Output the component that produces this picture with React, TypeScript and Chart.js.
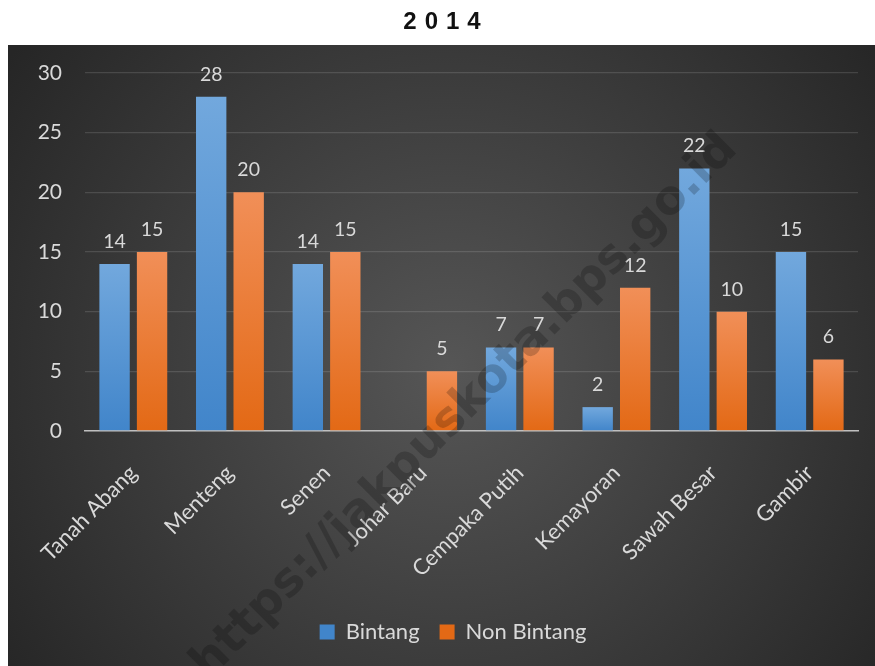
import { useEffect, useRef } from "react";
import { Chart, registerables } from "chart.js";

Chart.register(...registerables);

const TITLE = "2014";
const WATERMARK = "https://jakpuskota.bps.go.id";
const categories = [
  "Tanah Abang",
  "Menteng",
  "Senen",
  "Johar Baru",
  "Cempaka Putih",
  "Kemayoran",
  "Sawah Besar",
  "Gambir",
];
const seriesNames = ["Bintang", "Non Bintang"];
const bintang: (number | null)[] = [14, 28, 14, null, 7, 2, 22, 15];
const nonBintang: (number | null)[] = [15, 20, 15, 5, 7, 12, 10, 6];
const yMin = 0;
const yMax = 30;
const yStep = 5;

const FONT = 'Lato, "Noto Sans", sans-serif';
const TEXT = "#d9d9d9";

function barGradient(top: string, bottom: string, flat: string) {
  return (ctx: any) => {
    if (ctx.type !== "data") return flat;
    const chart = ctx.chart;
    const y = chart.scales && chart.scales.y;
    const v = ctx.raw;
    if (!y || v == null || !chart.chartArea) return flat;
    const y0 = y.getPixelForValue(v);
    const y1 = y.getPixelForValue(0);
    if (!isFinite(y0) || !isFinite(y1) || y0 === y1) return flat;
    const g = chart.ctx.createLinearGradient(0, y0, 0, y1);
    g.addColorStop(0, top);
    g.addColorStop(1, bottom);
    return g;
  };
}

const backgroundPlugin = {
  id: "bgPanel",
  beforeDraw(chart: any) {
    const { ctx, width, height } = chart;
    ctx.save();
    ctx.fillStyle = "#ffffff";
    ctx.fillRect(0, 0, width, height);
    const g = ctx.createRadialGradient(450, 370, 0, 450, 370, 540);
    g.addColorStop(0, "#565656");
    g.addColorStop(1, "#262626");
    ctx.fillStyle = g;
    ctx.fillRect(8, 45, width - 8, height - 45);
    // title
    ctx.fillStyle = "#111111";
    ctx.font = 'bold 24px "Liberation Sans", Arial, sans-serif';
    (ctx as any).letterSpacing = "8px";
    ctx.textAlign = "center";
    ctx.textBaseline = "middle";
    ctx.fillText(TITLE, 446, 22.5);
    (ctx as any).letterSpacing = "0px";
    ctx.restore();
  },
};

const legendShiftPlugin = {
  id: "legendShift",
  afterLayout(chart: any) {
    const lg = chart.legend;
    if (!lg) return;
    lg.left += 20;
    lg.right += 20;
  },
};

const labelsPlugin = {
  id: "valueLabels",
  afterDatasetsDraw(chart: any) {
    const { ctx } = chart;
    ctx.save();
    ctx.font = `19.5px ${FONT}`;
    ctx.fillStyle = TEXT;
    ctx.textAlign = "center";
    ctx.textBaseline = "alphabetic";
    chart.data.datasets.forEach((ds: any, di: number) => {
      const meta = chart.getDatasetMeta(di);
      meta.data.forEach((el: any, i: number) => {
        const v = ds.data[i];
        if (v == null) return;
        ctx.fillText(String(v), el.x, el.y - 16);
      });
    });
    ctx.restore();
  },
};

const watermarkPlugin = {
  id: "watermark",
  afterDraw(chart: any) {
    const { ctx } = chart;
    ctx.save();
    ctx.translate(465, 407);
    ctx.rotate(-Math.PI / 4);
    const fam = '"DejaVu Sans", Verdana, sans-serif';
    ctx.font = `bold 50px ${fam}`;
    const w = ctx.measureText(WATERMARK).width;
    const size = (50 * 750) / w;
    ctx.font = `bold ${size}px ${fam}`;
    ctx.fillStyle = "rgba(0,0,0,0.2)";
    ctx.textAlign = "center";
    ctx.textBaseline = "middle";
    ctx.fillText(WATERMARK, 0, 0);
    ctx.restore();
  },
};

export default function App() {
  const ref = useRef<HTMLCanvasElement | null>(null);

  useEffect(() => {
    if (!ref.current) return;
    Chart.defaults.font.family = FONT;
    const chart = new Chart(ref.current, {
      type: "bar",
      data: {
        labels: categories,
        datasets: [
          {
            label: seriesNames[0],
            data: bintang,
            backgroundColor: barGradient("#72a8dd", "#4185ca", "#5b9bd5"),
            borderWidth: 0,
            categoryPercentage: 0.776,
            barPercentage: 0.81,
          },
          {
            label: seriesNames[1],
            data: nonBintang,
            backgroundColor: barGradient("#f18f58", "#e36915", "#ed7d31"),
            borderWidth: 0,
            categoryPercentage: 0.776,
            barPercentage: 0.81,
          },
        ],
      },
      options: {
        responsive: false,
        animation: false,
        devicePixelRatio: 1,
        layout: { padding: { top: 73, left: 8, right: 17, bottom: 13 } },
        plugins: {
          title: { display: false },
          tooltip: { enabled: false },
          legend: {
            display: true,
            position: "bottom",
            labels: {
              color: TEXT,
              font: { family: FONT, size: 22 },
              boxWidth: 15,
              boxHeight: 15,
              padding: 20,
            },
          },
        },
        scales: {
          x: {
            grid: { display: false, drawTicks: false },
            border: { display: true, color: "#bfbfbf", width: 1.5 },
            ticks: {
              color: TEXT,
              font: { family: FONT, size: 22 },
              maxRotation: 45,
              minRotation: 45,
              autoSkip: false,
              padding: 29,
            },
            afterFit: (s: any) => {
              s.height = 170;
            },
          },
          y: {
            min: yMin,
            max: yMax,
            grid: { color: "rgba(255,255,255,0.13)", lineWidth: 1.3, drawTicks: false },
            border: { display: false },
            ticks: {
              stepSize: yStep,
              color: TEXT,
              font: { family: FONT, size: 21 },
              padding: 23,
            },
            afterFit: (s: any) => {
              s.width = 77;
            },
          },
        },
      },
      plugins: [backgroundPlugin, legendShiftPlugin, labelsPlugin, watermarkPlugin],
    });
    return () => chart.destroy();
  }, []);

  return (
    <div style={{ position: "absolute", left: 0, top: 0, width: 875, height: 666 }}>
      <canvas ref={ref} width={875} height={666} style={{ width: 875, height: 666, display: "block" }} />
    </div>
  );
}
